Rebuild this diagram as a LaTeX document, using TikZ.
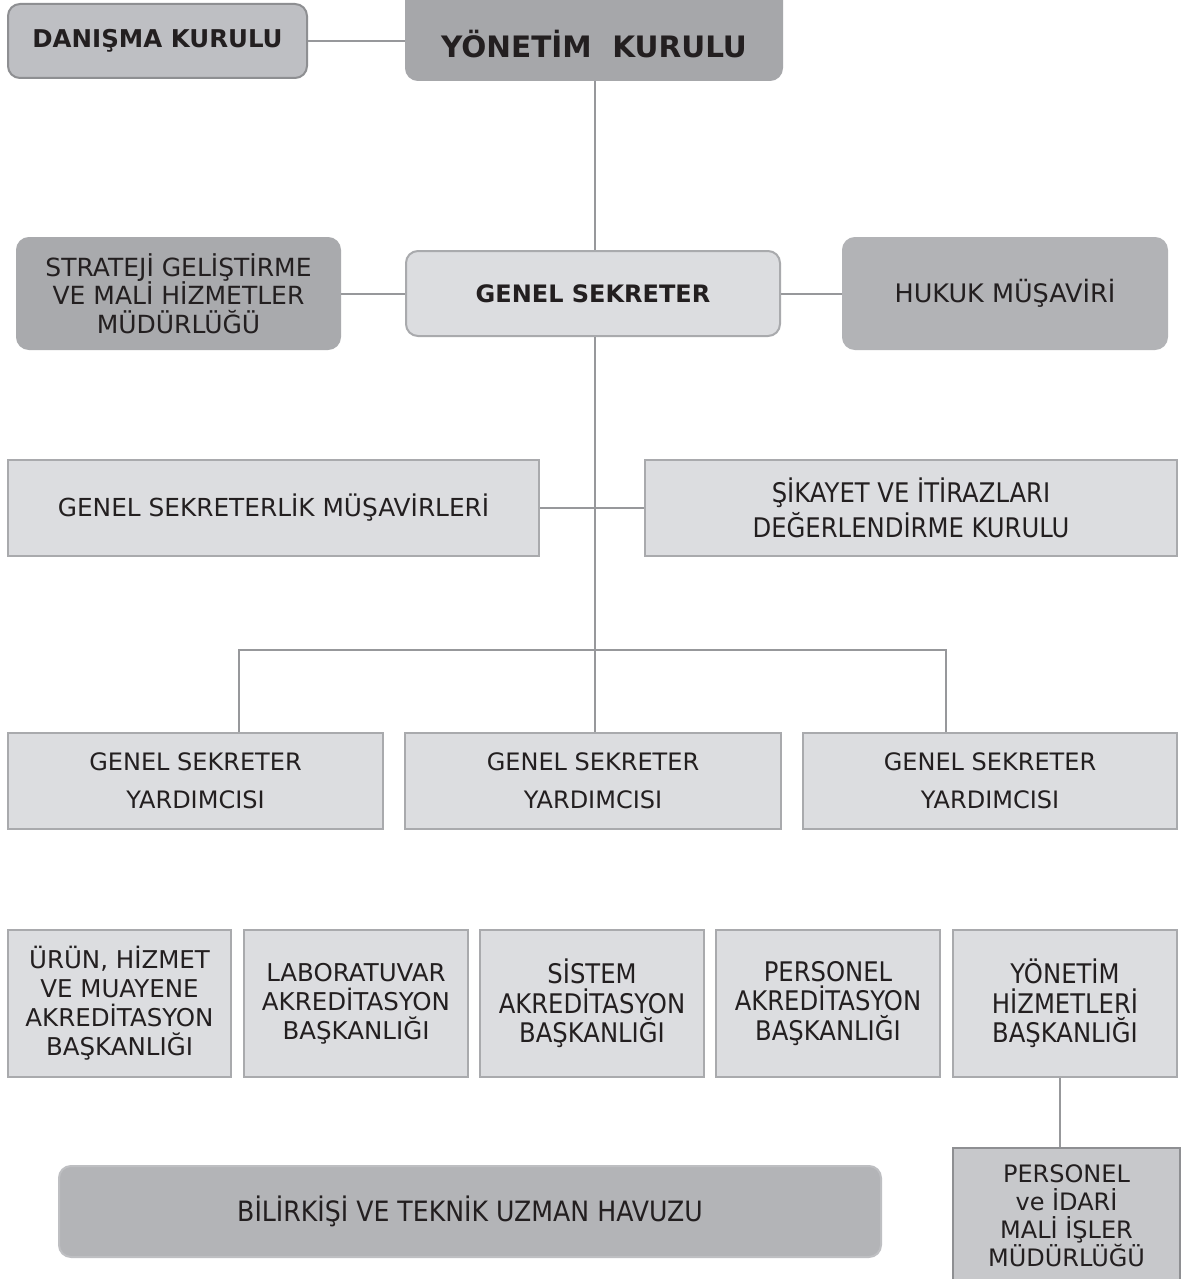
\documentclass[tikz,border=0pt]{standalone}
\usepackage{fontspec}
\setmainfont{DejaVu Sans}
\newfontfamily\condf[FakeStretch=0.9]{DejaVu Sans}
\definecolor{txt}{HTML}{231F20}
\definecolor{lnc}{HTML}{97989B}
\definecolor{fLight}{HTML}{DCDDE0}
\definecolor{bLight}{HTML}{A9AAAD}
\definecolor{fDan}{HTML}{BEBFC3}
\definecolor{bDark}{HTML}{8E8F92}
\definecolor{fYon}{HTML}{A6A7AA}
\definecolor{fStr}{HTML}{A9AAAD}
\definecolor{fHuk}{HTML}{B2B3B6}
\definecolor{fPer}{HTML}{C7C8CB}
\definecolor{fBil}{HTML}{B3B4B7}
\tikzset{
  box/.style={draw, line width=2pt, inner sep=0pt, align=center, text=txt, anchor=center},
  lightbox/.style={box, fill=fLight, draw=bLight},
  rbox/.style={box, rounded corners=12pt},
  reg/.style={font=\fontsize{24.5}{29}\selectfont},
  cond/.style={font=\condf\fontsize{27}{29.5}\selectfont},
  conn/.style={draw=lnc, line width=2pt},
}
\newcommand{\bx}[6]{% name, x1, y1, x2, y2, style
  \node[#6, minimum width={#4-#2}, minimum height={#5-#3}] (#1) at ({(#2+#4)/2},{(#3+#5)/2})}
\begin{document}
\begin{tikzpicture}[x=1pt,y=-1pt]
\useasboundingbox[fill=white] (0,0) rectangle (1182,1279);
% top
\bx{dan}{8}{4}{307}{78}{rbox, fill=fDan, draw=bDark, font=\bfseries\fontsize{24.5}{29}\selectfont} {DANIŞMA KURULU};
\bx{yon}{406}{-20}{782}{80}{rbox, fill=fYon, draw=fYon, label={[text=txt, font=\bfseries\fontsize{29.5}{34}\selectfont, yshift=-14pt]center:YÖNETİM~~KURULU}} {};
% second level
\bx{str}{17}{238}{340}{349}{rbox, fill=fStr, draw=fStr, font=\fontsize{25}{28.5}\selectfont} {STRATEJİ GELİŞTİRME\\VE MALİ HİZMETLER\\MÜDÜRLÜĞÜ};
\bx{gs}{406}{251}{780}{336}{rbox, fill=fLight, draw=bLight, font=\bfseries\fontsize{24}{29}\selectfont} {GENEL SEKRETER};
\bx{huk}{843}{238}{1167}{349}{rbox, fill=fHuk, draw=fHuk, font=\fontsize{25.5}{29}\selectfont} {HUKUK MÜŞAVİRİ};
% third level
\bx{gsm}{8}{460}{539}{556}{lightbox, font=\fontsize{24.8}{29}\selectfont} {GENEL SEKRETERLİK MÜŞAVİRLERİ};
\bx{sik}{645}{460}{1177}{556}{lightbox, font=\condf\fontsize{27}{35}\selectfont} {ŞİKAYET VE İTİRAZLARI\\DEĞERLENDİRME KURULU};
% deputies
\bx{ya}{8}{733}{383}{829}{lightbox, font=\fontsize{24}{38}\selectfont} {GENEL SEKRETER\\YARDIMCISI};
\bx{yb}{405}{733}{781}{829}{lightbox, font=\fontsize{24}{38}\selectfont} {GENEL SEKRETER\\YARDIMCISI};
\bx{yc}{803}{733}{1177}{829}{lightbox, font=\fontsize{24}{38}\selectfont} {GENEL SEKRETER\\YARDIMCISI};
% departments
\bx{d1}{8}{930}{231}{1077}{lightbox, reg} {ÜRÜN, HİZMET\\VE MUAYENE\\AKREDİTASYON\\BAŞKANLIĞI};
\bx{d2}{244}{930}{468}{1077}{lightbox, reg} {LABORATUVAR\\AKREDİTASYON\\BAŞKANLIĞI};
\bx{d3}{480}{930}{704}{1077}{lightbox, cond} {SİSTEM\\AKREDİTASYON\\BAŞKANLIĞI};
\bx{d4}{716}{930}{940}{1077}{lightbox, cond} {PERSONEL\\AKREDİTASYON\\BAŞKANLIĞI};
\bx{d5}{953}{930}{1177}{1077}{lightbox, cond} {YÖNETİM\\HİZMETLERİ\\BAŞKANLIĞI};
% bottom
\bx{pm}{953}{1148}{1180}{1283}{box, fill=fPer, draw=bDark, font=\fontsize{24}{28}\selectfont} {PERSONEL\\ve İDARİ\\MALİ İŞLER\\MÜDÜRLÜĞÜ};
\bx{bil}{59}{1166}{881}{1257}{rbox, fill=fBil, draw=fBil!85!white, font=\condf\fontsize{28}{32}\selectfont} {BİLİRKİŞİ VE TEKNİK UZMAN HAVUZU};
% connectors
\coordinate (br) at (595,650);
\coordinate (b1) at (239,650);
\coordinate (b3) at (946,650);
\draw[conn] (dan.east) -- (dan.east -| yon.west);
\draw[conn] (yon.south -| br) -- (br |- gs.north);
\draw[conn] (str.east) -- (str.east -| gs.west);
\draw[conn] (gs.east) -- (gs.east -| huk.west);
\draw[conn] (br |- gs.south) -- (br);
\draw[conn] (gsm.east) -- (sik.west);
\draw[conn] (b1 |- ya.north) -- (b1) -- (b3) -- (b3 |- yc.north);
\draw[conn] (br) -- (br |- yb.north);
\draw[conn] ([xshift=-5pt]d5.south) -- ([xshift=-5pt]d5.south |- pm.north);
\end{tikzpicture}
\end{document}
